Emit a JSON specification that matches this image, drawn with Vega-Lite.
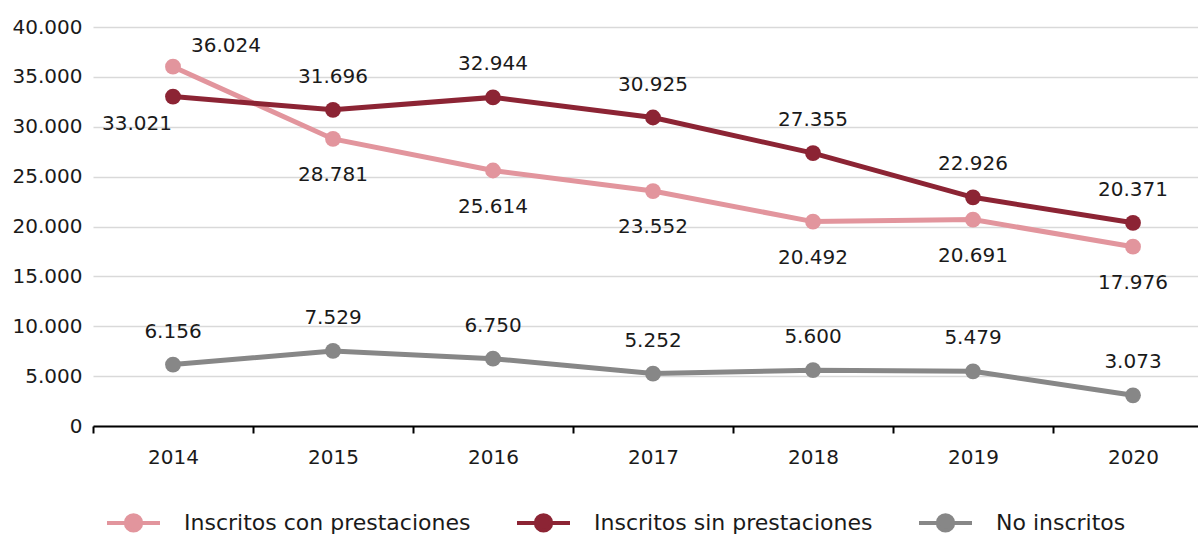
{
  "$schema": "https://vega.github.io/schema/vega-lite/v6.json",
  "width": 1120,
  "height": 399,
  "autosize": {"type": "none"},
  "padding": {"left": 93, "top": 27, "right": 0, "bottom": 110},
  "config": {
    "locale": {"number": {"decimal": ",", "thousands": ".", "grouping": [3], "currency": ["", " €"]}},
    "font": "DejaVu Sans",
    "view": {"stroke": null}
  },
  "data": {
    "values": [
      {"year": "2014", "serie": "Inscritos con prestaciones", "v": 36024},
      {"year": "2015", "serie": "Inscritos con prestaciones", "v": 28781},
      {"year": "2016", "serie": "Inscritos con prestaciones", "v": 25614},
      {"year": "2017", "serie": "Inscritos con prestaciones", "v": 23552},
      {"year": "2018", "serie": "Inscritos con prestaciones", "v": 20492},
      {"year": "2019", "serie": "Inscritos con prestaciones", "v": 20691},
      {"year": "2020", "serie": "Inscritos con prestaciones", "v": 17976},
      {"year": "2014", "serie": "Inscritos sin prestaciones", "v": 33021},
      {"year": "2015", "serie": "Inscritos sin prestaciones", "v": 31696},
      {"year": "2016", "serie": "Inscritos sin prestaciones", "v": 32944},
      {"year": "2017", "serie": "Inscritos sin prestaciones", "v": 30925},
      {"year": "2018", "serie": "Inscritos sin prestaciones", "v": 27355},
      {"year": "2019", "serie": "Inscritos sin prestaciones", "v": 22926},
      {"year": "2020", "serie": "Inscritos sin prestaciones", "v": 20371},
      {"year": "2014", "serie": "No inscritos", "v": 6156},
      {"year": "2015", "serie": "No inscritos", "v": 7529},
      {"year": "2016", "serie": "No inscritos", "v": 6750},
      {"year": "2017", "serie": "No inscritos", "v": 5252},
      {"year": "2018", "serie": "No inscritos", "v": 5600},
      {"year": "2019", "serie": "No inscritos", "v": 5479},
      {"year": "2020", "serie": "No inscritos", "v": 3073}
    ]
  },
  "encoding": {
    "x": {
      "field": "year",
      "type": "ordinal",
      "scale": {"type": "band", "paddingInner": 0, "paddingOuter": 0},
      "axis": {
        "title": null,
        "tickBand": "extent",
        "grid": false,
        "domainColor": "#000000",
        "domainWidth": 2,
        "tickColor": "#000000",
        "tickWidth": 2,
        "tickSize": 7,
        "labelAngle": 0,
        "labelPadding": 14,
        "labelFontSize": 20,
        "labelColor": "#1a1a1a"
      }
    },
    "y": {
      "field": "v",
      "type": "quantitative",
      "scale": {"domain": [0, 40000], "nice": false},
      "axis": {
        "title": null,
        "values": [0, 5000, 10000, 15000, 20000, 25000, 30000, 35000, 40000],
        "format": ",d",
        "domain": false,
        "ticks": false,
        "gridColor": "#d9d9d9",
        "gridWidth": 1.5,
        "labelFontSize": 20,
        "labelPadding": 11,
        "labelColor": "#1a1a1a"
      }
    }
  },
  "layer": [
    {
      "mark": {"type": "line", "strokeWidth": 5, "point": {"filled": true, "size": 250, "opacity": 1}},
      "encoding": {
        "color": {
          "field": "serie",
          "type": "nominal",
          "sort": ["Inscritos con prestaciones", "Inscritos sin prestaciones", "No inscritos"],
          "scale": {
            "domain": ["Inscritos con prestaciones", "Inscritos sin prestaciones", "No inscritos"],
            "range": ["#e2959d", "#8c2434", "#878787"]
          },
          "legend": {
            "title": null,
            "orient": "none",
            "legendX": 12,
            "legendY": 467,
            "direction": "horizontal",
            "symbolType": "M-1,0L1,0M-0.29,0A0.29,0.29,0,1,1,0.29,0A0.29,0.29,0,1,1,-0.29,0Z",
            "symbolSize": 2809,
            "symbolStrokeWidth": 4,
            "labelFontSize": 22,
            "labelLimit": 0,
            "labelColor": "#1a1a1a",
            "labelOffset": 22,
            "columnPadding": 38,
            "encode": {
              "symbols": {
                "update": {
                  "fill": {"scale": "color", "field": "value"},
                  "stroke": {"scale": "color", "field": "value"},
                  "opacity": {"value": 1}
                }
              }
            }
          }
        }
      }
    },
    {
      "transform": [{"filter": "datum.serie === 'Inscritos con prestaciones' && datum.year !== '2014'"}],
      "mark": {"type": "text", "dy": 36, "fontSize": 20, "color": "#1a1a1a"},
      "encoding": {"text": {"field": "v", "type": "quantitative", "format": ",d"}}
    },
    {
      "transform": [{"filter": "datum.serie === 'Inscritos con prestaciones' && datum.year === '2014'"}],
      "mark": {"type": "text", "dx": 53, "dy": -21, "fontSize": 20, "color": "#1a1a1a"},
      "encoding": {"text": {"field": "v", "type": "quantitative", "format": ",d"}}
    },
    {
      "transform": [{"filter": "datum.serie === 'Inscritos sin prestaciones' && datum.year !== '2014'"}],
      "mark": {"type": "text", "dy": -33, "fontSize": 20, "color": "#1a1a1a"},
      "encoding": {"text": {"field": "v", "type": "quantitative", "format": ",d"}}
    },
    {
      "transform": [{"filter": "datum.serie === 'Inscritos sin prestaciones' && datum.year === '2014'"}],
      "mark": {"type": "text", "dx": -36, "dy": 27, "fontSize": 20, "color": "#1a1a1a"},
      "encoding": {"text": {"field": "v", "type": "quantitative", "format": ",d"}}
    },
    {
      "transform": [{"filter": "datum.serie === 'No inscritos'"}],
      "mark": {"type": "text", "dy": -33, "fontSize": 20, "color": "#1a1a1a"},
      "encoding": {"text": {"field": "v", "type": "quantitative", "format": ",d"}}
    }
  ]
}
